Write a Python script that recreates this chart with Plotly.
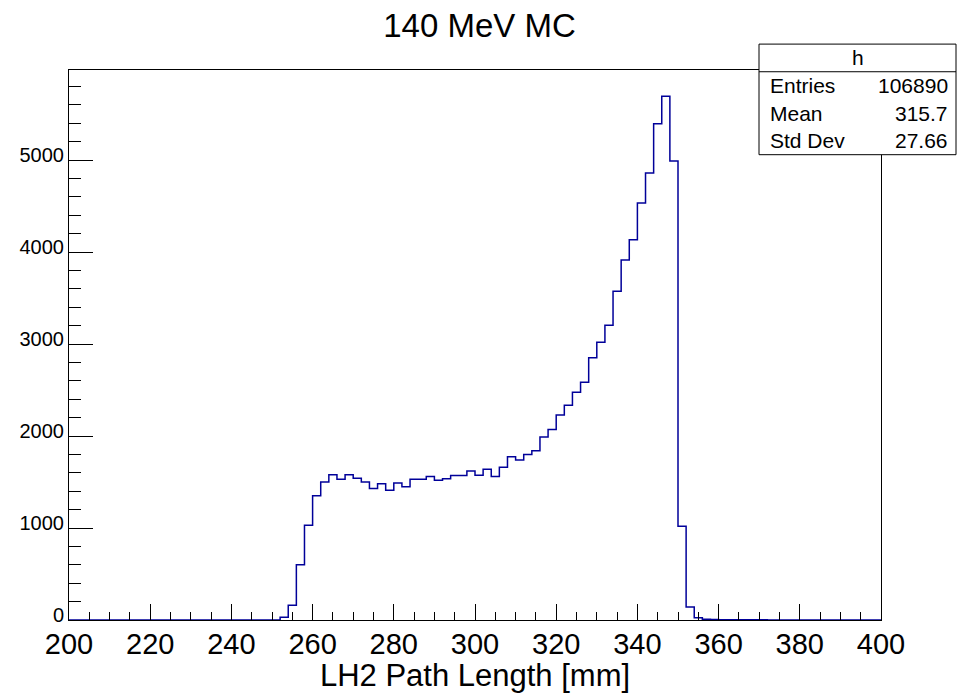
import numpy as np
import plotly.graph_objects as go

# ---------------- data ----------------
x_min, x_max, n_bins = 200.0, 400.0, 100
bin_edges = np.linspace(x_min, x_max, n_bins + 1)

# counts per 2 mm bin, lower edges 200, 202, ..., 398
counts = [
    0, 0, 0, 0, 0, 0, 0, 0, 0, 0,            # 200-218
    0, 0, 0, 0, 0, 0, 0, 0, 0, 0,            # 220-238
    0, 0, 0, 0, 0, 0, 30, 160, 600, 1030,    # 240-258
    1350, 1500, 1580, 1530, 1580, 1540, 1500, 1430, 1480, 1410,   # 260-278
    1490, 1450, 1530, 1530, 1560, 1520, 1535, 1570, 1570, 1620,   # 280-298
    1575, 1640, 1560, 1660, 1775, 1740, 1800, 1840, 1990, 2070,   # 300-318
    2230, 2335, 2475, 2585, 2850, 3020, 3205, 3575, 3915, 4135,   # 320-338
    4535, 4860, 5395, 5695, 4990, 1020, 140, 25, 8, 5,            # 340-358
    3, 3, 2, 2, 2, 2, 0, 0, 0, 0,            # 360-378
    0, 0, 0, 0, 0, 0, 0, 0, 0, 0,            # 380-398
]

x_ticks = [200, 220, 240, 260, 280, 300, 320, 340, 360, 380, 400]
y_ticks = [0, 1000, 2000, 3000, 4000, 5000]

title_text = "140 MeV MC"
x_title = "LH2 Path Length [mm]"
stats_name = "h"
stats_labels = ["Entries", "Mean", "Std Dev"]
stats_values = ["106890", "315.7", "27.66"]

y_top = 1.05 * max(counts)

# ---------------- figure ----------------
FONT = "Liberation Sans, Arial, Helvetica, sans-serif"
W, H = 959, 693
ML, MR, MT, MB = 69, 78, 70, 71
PW, PH = W - ML - MR, H - MT - MB

def px_to_paper_x(px):
    return (px - ML) / PW

def px_to_paper_y(py):
    return (H - MB - py) / PH

fig = go.Figure()
fig.add_trace(go.Scatter(
    x=list(bin_edges),
    y=list(counts) + [counts[-1]],
    mode="lines",
    line=dict(shape="hv", color="#000099", width=1.5),
    hoverinfo="skip",
    showlegend=False,
))

fig.update_layout(
    width=W, height=H,
    margin=dict(l=ML, r=MR, t=MT, b=MB),
    paper_bgcolor="white",
    plot_bgcolor="white",
    font=dict(family=FONT, color="black"),
    title=dict(text=title_text, x=0.5, xanchor="center",
               y=1 - 25.5 / H, yanchor="middle", yref="container",
               font=dict(size=33, family=FONT, color="black")),
    showlegend=False,
)

fig.update_xaxes(
    range=[x_min, x_max],
    tickmode="array", tickvals=x_ticks, ticktext=[str(v) for v in x_ticks],
    ticks="inside", ticklen=16, tickwidth=1, tickcolor="black",
    minor=dict(dtick=5, tick0=200, ticks="inside", ticklen=8, tickwidth=1, tickcolor="black", showgrid=False),
    showgrid=False, zeroline=False,
    showline=True, linecolor="black", linewidth=1, mirror=True,
    tickfont=dict(size=29, family=FONT, color="black"),
    ticklabelstandoff=-2,
    title=dict(text=x_title, font=dict(size=31, family=FONT, color="black"), standoff=0),
)
fig.update_yaxes(
    range=[0, y_top],
    tickmode="array", tickvals=y_ticks, ticktext=[str(v) for v in y_ticks],
    ticks="inside", ticklen=24, tickwidth=1, tickcolor="black",
    minor=dict(dtick=200, tick0=0, ticks="inside", ticklen=12, tickwidth=1, tickcolor="black", showgrid=False),
    showgrid=False, zeroline=False,
    showline=True, linecolor="black", linewidth=1, mirror=True,
    tickfont=dict(size=20, family=FONT, color="black"),
    ticklabelshift=-5,
)

# ---------------- stats box ----------------
bx0, bx1, by0, by1 = 759, 956, 44, 155
row_h = (by1 - by0) / 4.0
STAT_FS = 21
fig.add_shape(type="rect", xref="paper", yref="paper",
              x0=px_to_paper_x(bx0), x1=px_to_paper_x(bx1),
              y0=px_to_paper_y(by1), y1=px_to_paper_y(by0),
              line=dict(color="black", width=1), fillcolor="white", layer="above")
fig.add_shape(type="line", xref="paper", yref="paper",
              x0=px_to_paper_x(bx0), x1=px_to_paper_x(bx1),
              y0=px_to_paper_y(by0 + row_h), y1=px_to_paper_y(by0 + row_h),
              line=dict(color="black", width=1), layer="above")
fig.add_annotation(xref="paper", yref="paper", x=px_to_paper_x((bx0 + bx1) / 2),
                   y=px_to_paper_y(by0 + row_h / 2), text=stats_name, showarrow=False,
                   xanchor="center", yanchor="middle",
                   font=dict(size=STAT_FS, family=FONT, color="black"))
for i, (lab, val) in enumerate(zip(stats_labels, stats_values)):
    yc = by0 + row_h * (i + 1.5)
    fig.add_annotation(xref="paper", yref="paper", x=px_to_paper_x(bx0 + 9),
                       y=px_to_paper_y(yc), text=lab, showarrow=False,
                       xanchor="left", yanchor="middle",
                       font=dict(size=STAT_FS, family=FONT, color="black"))
    fig.add_annotation(xref="paper", yref="paper", x=px_to_paper_x(bx1 - 6),
                       y=px_to_paper_y(yc), text=val, showarrow=False,
                       xanchor="right", yanchor="middle",
                       font=dict(size=STAT_FS, family=FONT, color="black"))

fig.write_html("out.html", config={"displayModeBar": False},
               post_script="document.body.style.margin='0px';document.body.style.overflow='hidden';")
